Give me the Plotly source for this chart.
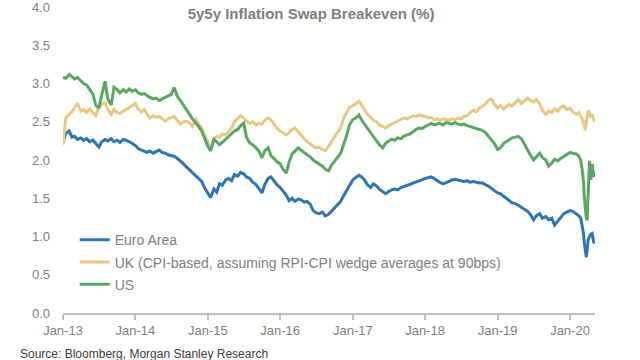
import pandas as pd
import plotly.graph_objects as go

# semi-monthly observation dates, then finer dates around the March 2020 sell-off
dates = list(pd.date_range("2013-01-01", "2020-02-15", freq="SMS").strftime("%Y-%m-%d")) + [
    "2020-02-24", "2020-03-02", "2020-03-09", "2020-03-13", "2020-03-18", "2020-03-23",
    "2020-03-27", "2020-04-01", "2020-04-08", "2020-04-15", "2020-04-22", "2020-04-29", "2020-05-05",
]

euro_area = [
    # 2013
    2.23, 2.35, 2.38, 2.30, 2.31, 2.27, 2.29, 2.26, 2.28, 2.24, 2.26, 2.22,
    2.17, 2.24, 2.27, 2.25, 2.28, 2.24, 2.26, 2.23, 2.27, 2.26, 2.24, 2.22,
    # 2014
    2.19, 2.15, 2.13, 2.12, 2.10, 2.12, 2.09, 2.11, 2.13, 2.10, 2.09, 2.07,
    2.06, 2.05, 2.02, 1.99, 1.95, 1.91, 1.87, 1.84, 1.80, 1.77, 1.72, 1.64,
    # 2015
    1.56, 1.51, 1.62, 1.58, 1.69, 1.67, 1.74, 1.76, 1.73, 1.81, 1.79, 1.84,
    1.82, 1.78, 1.76, 1.71, 1.68, 1.62, 1.57, 1.68, 1.76, 1.78, 1.72, 1.68,
    # 2016
    1.64, 1.60, 1.54, 1.47, 1.50, 1.46, 1.49, 1.48, 1.45, 1.46, 1.42, 1.34,
    1.31, 1.30, 1.32, 1.27, 1.29, 1.33, 1.37, 1.41, 1.46, 1.53, 1.60, 1.68,
    # 2017
    1.74, 1.77, 1.80, 1.78, 1.74, 1.68, 1.64, 1.69, 1.66, 1.62, 1.59, 1.56,
    1.59, 1.61, 1.62, 1.61, 1.64, 1.65, 1.67, 1.68, 1.70, 1.71, 1.73, 1.74,
    # 2018
    1.76, 1.77, 1.78, 1.76, 1.73, 1.71, 1.69, 1.70, 1.72, 1.74, 1.75, 1.74,
    1.73, 1.72, 1.73, 1.71, 1.72, 1.71, 1.70, 1.70, 1.68, 1.66, 1.63, 1.60,
    # 2019
    1.57, 1.56, 1.53, 1.50, 1.47, 1.44, 1.43, 1.41, 1.38, 1.35, 1.33, 1.29,
    1.22, 1.27, 1.30, 1.24, 1.26, 1.22, 1.24, 1.15, 1.21, 1.26, 1.30, 1.32,
    # 2020
    1.34, 1.33, 1.30, 1.27,
    1.24, 1.14, 1.04, 0.92, 0.80, 0.73, 0.82, 0.95, 1.00, 1.03, 1.04, 0.93, 0.91,
]

uk = [
    # 2013
    2.20, 2.55, 2.60, 2.63, 2.69, 2.74, 2.64, 2.66, 2.62, 2.67, 2.62, 2.58,
    2.70, 2.73, 2.75, 2.66, 2.60, 2.66, 2.62, 2.61, 2.64, 2.66, 2.69, 2.71,
    # 2014
    2.74, 2.67, 2.63, 2.66, 2.60, 2.55, 2.58, 2.56, 2.57, 2.54, 2.51, 2.54,
    2.56, 2.57, 2.52, 2.47, 2.50, 2.51, 2.49, 2.44, 2.53, 2.48, 2.42, 2.33,
    # 2015
    2.24, 2.13, 2.28, 2.31, 2.30, 2.34, 2.33, 2.37, 2.42, 2.50, 2.54, 2.58,
    2.55, 2.51, 2.48, 2.50, 2.46, 2.48, 2.47, 2.52, 2.55, 2.53, 2.47, 2.42,
    # 2016
    2.38, 2.36, 2.33, 2.36, 2.40, 2.42, 2.37, 2.34, 2.28, 2.24, 2.21, 2.18,
    2.16, 2.17, 2.14, 2.12, 2.18, 2.24, 2.30, 2.36, 2.42, 2.55, 2.62, 2.69,
    # 2017
    2.71, 2.74, 2.77, 2.72, 2.65, 2.60, 2.56, 2.52, 2.50, 2.46, 2.44, 2.42,
    2.45, 2.47, 2.49, 2.51, 2.53, 2.55, 2.54, 2.56, 2.58, 2.57, 2.59, 2.58,
    # 2018
    2.57, 2.55, 2.56, 2.53, 2.54, 2.52, 2.54, 2.53, 2.52, 2.54, 2.53, 2.55,
    2.54, 2.57, 2.58, 2.62, 2.65, 2.63, 2.68, 2.70, 2.73, 2.78, 2.80, 2.73,
    # 2019
    2.68, 2.71, 2.67, 2.70, 2.73, 2.71, 2.75, 2.79, 2.74, 2.77, 2.81, 2.78,
    2.76, 2.79, 2.74, 2.65, 2.60, 2.64, 2.62, 2.67, 2.64, 2.69, 2.71, 2.66,
    # 2020
    2.68, 2.63, 2.60, 2.62,
    2.58, 2.55, 2.50, 2.45, 2.39, 2.48, 2.60, 2.65, 2.61, 2.56, 2.60, 2.53, 2.51,
]

us = [
    # 2013
    3.08, 3.07, 3.12, 3.09, 3.06, 3.08, 3.03, 3.00, 2.98, 2.93, 2.86, 2.72,
    2.68, 2.85, 3.03, 2.80, 2.72, 2.95, 2.92, 2.88, 2.92, 2.89, 2.93, 2.90,
    # 2014
    2.92, 2.88, 2.86, 2.87, 2.84, 2.82, 2.80, 2.81, 2.78, 2.80, 2.82, 2.84,
    2.86, 2.95, 2.83, 2.78, 2.72, 2.66, 2.60, 2.54, 2.49, 2.44, 2.38, 2.28,
    # 2015
    2.18, 2.12, 2.27, 2.24, 2.20, 2.23, 2.27, 2.30, 2.34, 2.38, 2.40, 2.45,
    2.48, 2.30, 2.22, 2.20, 2.16, 2.12, 2.03, 2.12, 2.16, 2.06, 2.02, 1.98,
    # 2016
    1.95, 1.88, 1.83, 1.98, 2.08, 2.12, 2.16, 2.13, 2.10, 2.07, 2.04, 2.00,
    1.97, 1.94, 1.92, 1.88, 1.86, 1.93, 1.99, 2.04, 2.09, 2.20, 2.32, 2.46,
    # 2017
    2.53, 2.55, 2.59, 2.52, 2.47, 2.42, 2.36, 2.31, 2.26, 2.20, 2.16, 2.22,
    2.25, 2.27, 2.26, 2.29, 2.28, 2.31, 2.33, 2.34, 2.37, 2.40, 2.42, 2.41,
    # 2018
    2.44, 2.46, 2.48, 2.46, 2.47, 2.48, 2.46, 2.49, 2.48, 2.47, 2.49, 2.47,
    2.46, 2.47, 2.45, 2.44, 2.43, 2.41, 2.40, 2.39, 2.36, 2.32, 2.27, 2.22,
    # 2019
    2.14, 2.16, 2.22, 2.24, 2.27, 2.29, 2.30, 2.31, 2.28, 2.22, 2.14, 2.07,
    2.00, 2.04, 2.09, 2.03, 2.00, 1.92, 1.96, 2.01, 1.99, 2.02, 2.05, 2.08,
    # 2020
    2.10, 2.09, 2.08, 2.05,
    2.00, 1.88, 1.72, 1.52, 1.36, 1.25, 1.21, 1.55, 1.99, 1.74, 1.95, 1.78, 1.85,
]

series_names = ["Euro Area", "UK (CPI-based, assuming RPI-CPI wedge averages at 90bps)", "US"]
series_values = [euro_area, uk, us]
series_colors = ["#2F75B5", "#E8C882", "#5AA764"]

title_text = "5y5y Inflation Swap Breakeven (%)"
source_text = "Source: Bloomberg, Morgan Stanley Research"

fig = go.Figure()
for name, vals, col in zip(series_names, series_values, series_colors):
    fig.add_trace(go.Scatter(
        x=dates, y=vals, name=name, mode="lines",
        line=dict(color=col, width=3),
        legendgroup=name,
    ))

gray = "#808080"
fig.update_layout(
    width=640, height=360,
    margin=dict(l=63, r=45, t=7, b=47, autoexpand=False),
    plot_bgcolor="white", paper_bgcolor="white",
    font=dict(family="Liberation Sans, Arial, sans-serif", size=13, color=gray),
    title=dict(text="<b>" + title_text + "</b>", x=0.486, xref="container", xanchor="center",
               y=0.962, yref="container", yanchor="middle",
               font=dict(size=15, color=gray)),
    showlegend=True,
    legend=dict(x=0.022, y=0.29, xanchor="left", yanchor="top",
                bgcolor="rgba(0,0,0,0)", font=dict(size=14, color=gray),
                traceorder="grouped", tracegroupgap=1),
    xaxis=dict(
        type="date", range=["2013-01-01", "2020-05-06"],
        tick0="2013-01-01", dtick="M12", tickformat="%b-%y",
        showgrid=False, zeroline=False, automargin=False,
        showline=True, linecolor="#BFBFBF", linewidth=1.5,
        ticks="outside", ticklen=5, tickcolor="#BFBFBF", tickwidth=1.5,
        tickfont=dict(size=13, color=gray),
    ),
    yaxis=dict(
        range=[0, 4.002], dtick=0.5, tick0=0, tickformat=".1f",
        showgrid=False, zeroline=False, showline=False, automargin=False,
        ticklabelstandoff=12, ticklabeloverflow="allow",
        tickfont=dict(size=13, color=gray),
    ),
    annotations=[dict(
        text=source_text, xref="paper", yref="paper",
        x=-(63 - 18) / 532, y=-(354 - 313) / 306, xanchor="left", yanchor="middle",
        showarrow=False, font=dict(size=12, color="#404040"),
    )],
)

fig.write_html(
    "out.html",
    config={"displayModeBar": False},
    post_script="document.body.style.margin='0';document.body.style.overflow='hidden';",
)
